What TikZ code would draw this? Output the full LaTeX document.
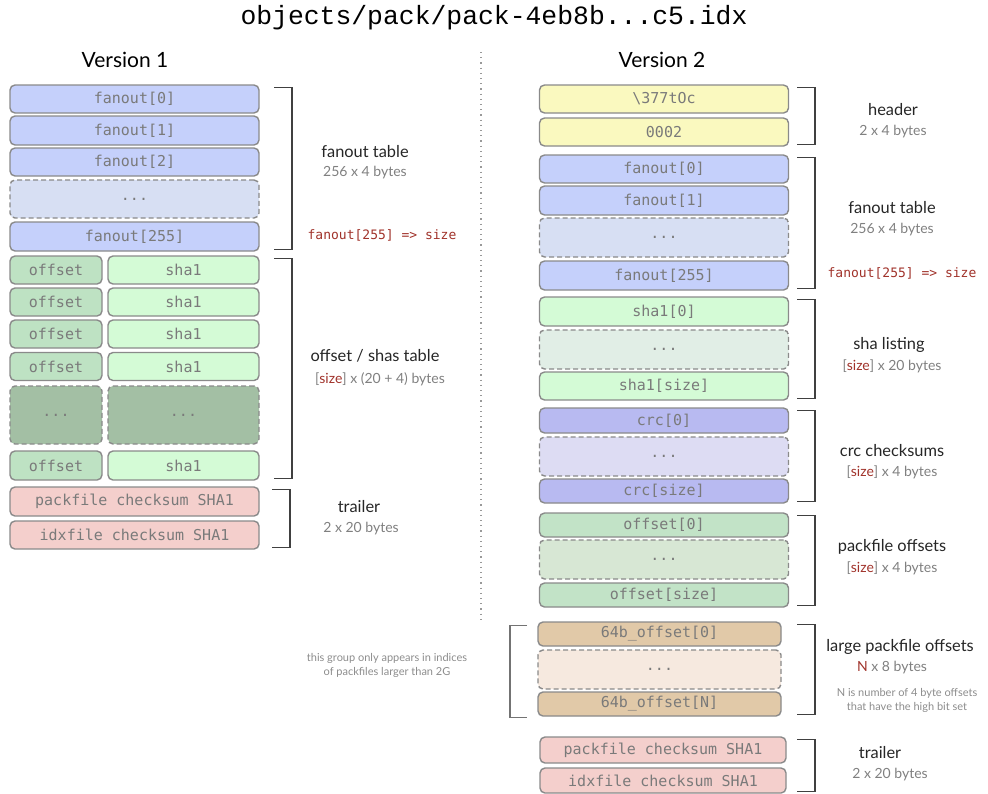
\documentclass[tikz,border=0pt]{standalone}
\usepackage{fontspec}
\setmainfont{Lato}
\setmonofont{DejaVu Sans Mono}
\newfontfamily\titlefont{Liberation Mono}
\usetikzlibrary{positioning,calc}
\definecolor{fanblue}{HTML}{C5D0FB}
\definecolor{fandots}{HTML}{D7DFF3}
\definecolor{offgreen}{HTML}{BEE2C3}
\definecolor{shagreen}{HTML}{D4FBD6}
\definecolor{offdots}{HTML}{A3BFA4}
\definecolor{trailpink}{HTML}{F4CFCC}
\definecolor{hdryellow}{HTML}{FAF9BF}
\definecolor{shadots}{HTML}{E1EEE6}
\definecolor{crcblue}{HTML}{B8BAF1}
\definecolor{crcdots}{HTML}{DDDCF3}
\definecolor{poffgreen}{HTML}{C2E3C7}
\definecolor{poffdots}{HTML}{D7E7D4}
\definecolor{bigtan}{HTML}{E1C9A8}
\definecolor{bigdots}{HTML}{F6E9DF}
\definecolor{boxline}{HTML}{8A8A8A}
\definecolor{boxtext}{HTML}{7A7A7A}
\definecolor{sizered}{HTML}{A0322A}
\tikzset{field/.style={rectangle, rounded corners=2.5pt, draw=boxline, line width=0.7pt, text=boxtext, font=\ttfamily\fontsize{7.5}{8}\selectfont, inner sep=0pt, minimum width=124.5pt, minimum height=14pt},
  dots/.style={field, dashed, dash pattern=on 2.5pt off 1.5pt},
  brk/.style={draw=black!75, line width=0.7pt},
  head/.style={font=\fontsize{8.2}{10}\selectfont, text=black!85},
  sub/.style={font=\fontsize{7}{8}\selectfont, text=black!50},
  note/.style={font=\fontsize{5.5}{7}\selectfont, text=black!45, align=center},
  redmono/.style={font=\ttfamily\fontsize{6.5}{8}\selectfont, text=sizered}}
\newcommand{\sz}{{\color{black!50}[}{\color{sizered}size}{\color{black!50}]}}
% bracket from top node to bottom node, opening to the left at x=#3
\newcommand{\bracket}[3]{\draw[brk] ([yshift=-1.5pt]#1.north -| #3-18,0) -- ([yshift=-1.5pt]#1.north -| #3,0) -- ([yshift=1pt]#2.south -| #3,0) -- ([yshift=1pt]#2.south -| #3-18,0);}
\begin{document}
\begin{tikzpicture}[x=0.5pt, y=-0.5pt]
\useasboundingbox (0,0) rectangle (988,793);
\node[font=\titlefont\fontsize{13.2}{15}\selectfont] (title) at (494,18) {objects/pack/pack-4eb8b...c5.idx};
\node[font=\fontsize{10.5}{12}\selectfont] (v1) at (125,60) {Version 1};
\node[font=\fontsize{10.5}{12}\selectfont] (v2) at (662,60) {Version 2};
\coordinate (divtop) at (481,52);
\coordinate (divbot) at (481,620);
\draw[dotted, black!40, line width=0.6pt] (divtop) -- (divbot);

% version 1
\node[field, fill=fanblue] (af0) at (134.5,99) {fanout[0]};
\node[field, fill=fanblue, minimum height=14.5pt] (af1) at (134.5,130.5) {fanout[1]};
\node[field, fill=fanblue] (af2) at (134.5,162) {fanout[2]};
\node[dots, fill=fandots, minimum height=19pt] (afd) at (134.5,199) {...};
\node[field, fill=fanblue, minimum height=14.5pt] (af255) at (134.5,236.5) {fanout[255]};
\foreach \i/\y in {1/270,2/302,3/334,4/366.5}{
  \node[field, fill=offgreen, minimum width=46pt] (aoff\i) at (56,\y) {offset};
  \node[field, fill=shagreen, minimum width=75.5pt] (asha\i) at (183.5,\y) {sha1};
}
\node[dots, fill=offdots, minimum width=46pt, minimum height=29pt] (aoffd) at (56,415) {...};
\node[dots, fill=offdots, minimum width=75.5pt, minimum height=29pt] (ashad) at (183.5,415) {...};
\node[field, fill=offgreen, minimum width=46pt, minimum height=14.5pt] (aoff5) at (56,465.5) {offset};
\node[field, fill=shagreen, minimum width=75.5pt, minimum height=14.5pt] (asha5) at (183.5,465.5) {sha1};
\node[field, fill=trailpink, minimum height=14.5pt] (apk) at (134.5,501.5) {packfile checksum SHA1};
\node[field, fill=trailpink] (aix) at (134.5,535) {idxfile checksum SHA1};

\bracket{af0}{af255}{292}
\bracket{asha1}{asha5}{292}
\bracket{apk}{aix}{290}

\node[head] (afanl) at (365,152) {fanout table};
\node[sub] (afans) at (365,173) {256 x 4 bytes};
\node[redmono] (asize) at (382,235) {fanout[255] => size};
\node[head] (aoffl) at (375,356) {offset / shas table};
\node[sub] (aoffs) at (380,379) {\sz{} x (20 + 4) bytes};
\node[head] (atrl) at (359,507) {trailer};
\node[sub] (atrs) at (361,529) {2 x 20 bytes};

% version 2
\node[field, fill=hdryellow] (bh1) at (664,99) {\textbackslash 377tOc};
\node[field, fill=hdryellow] (bh2) at (664,132) {0002};
\node[field, fill=fanblue] (bf0) at (664,169) {fanout[0]};
\node[field, fill=fanblue, minimum height=14.5pt] (bf1) at (664,200.5) {fanout[1]};
\node[dots, fill=fandots, minimum height=19.5pt] (bfd) at (664,237.5) {...};
\node[field, fill=fanblue, minimum height=14.5pt] (bf255) at (664,275.5) {fanout[255]};
\node[field, fill=shagreen, minimum height=14.5pt] (bs0) at (664,311.5) {sha1[0]};
\node[dots, fill=shadots, minimum height=19.5pt] (bsd) at (664,349.5) {...};
\node[field, fill=shagreen] (bss) at (664,386) {sha1[size]};
\node[field, fill=crcblue, minimum height=12.5pt] (bc0) at (664,420.5) {crc[0]};
\node[dots, fill=crcdots, minimum height=19.5pt] (bcd) at (664,456.5) {...};
\node[field, fill=crcblue, minimum height=12pt] (bcs) at (664,491) {crc[size]};
\node[field, fill=poffgreen, minimum height=12pt] (bo0) at (664,525) {offset[0]};
\node[dots, fill=poffdots, minimum height=19.5pt] (bod) at (664,559.5) {...};
\node[field, fill=poffgreen, minimum height=12pt] (bos) at (664,595) {offset[size]};
\node[field, fill=bigtan, minimum width=121.5pt, minimum height=12pt] (bb0) at (659.5,634) {64b\_offset[0]};
\node[dots, fill=bigdots, minimum width=121.5pt, minimum height=19.5pt] (bbd) at (659.5,669.5) {...};
\node[field, fill=bigtan, minimum width=121.5pt, minimum height=12pt] (bbN) at (659.5,704) {64b\_offset[N]};
\node[field, fill=trailpink, minimum width=123pt, minimum height=13pt] (bpk) at (663,750) {packfile checksum SHA1};
\node[field, fill=trailpink, minimum width=123pt, minimum height=12.5pt] (bix) at (663,780.5) {idxfile checksum SHA1};

\bracket{bh1}{bh2}{815}
\bracket{bf0}{bf255}{815}
\bracket{bs0}{bss}{815}
\bracket{bc0}{bcs}{815}
\bracket{bo0}{bos}{815}
\bracket{bb0}{bbN}{815}
\bracket{bpk}{bix}{815}
\draw[brk, draw=black!55] ([yshift=-2pt]bb0.north -| 527,0) -- ([yshift=-2pt]bb0.north -| 510,0) -- ([yshift=-0.5pt]bbN.south -| 510,0) -- ([yshift=-0.5pt]bbN.south -| 527,0);

\node[head] (bhl) at (893,110) {header};
\node[sub] (bhs) at (893,132) {2 x 4 bytes};
\node[head] (bfl) at (892,208) {fanout table};
\node[sub] (bfs) at (892,230) {256 x 4 bytes};
\node[redmono] (bsize) at (902,273) {fanout[255] => size};
\node[head] (bsl) at (889,345) {sha listing};
\node[sub] (bss2) at (892,366) {\sz{} x 20 bytes};
\node[head] (bcl) at (892,451) {crc checksums};
\node[sub] (bcs2) at (892,472) {\sz{} x 4 bytes};
\node[head] (bol) at (892,547) {packfile offsets};
\node[sub] (bos2) at (892,568) {\sz{} x 4 bytes};
\node[head] (bbl) at (900,647) {large packfile offsets};
\node[sub] (bbs) at (892,668) {{\color{sizered}N} x 8 bytes};
\node[note] (bbn) at (907,700) {N is number of 4 byte offsets\\that have the high bit set};
\node[note] (bnote) at (387,665) {this group only appears in indices\\of packfiles larger than 2G};
\node[head] (btl) at (880,753) {trailer};
\node[sub] (bts) at (890,775) {2 x 20 bytes};
\end{tikzpicture}
\end{document}
